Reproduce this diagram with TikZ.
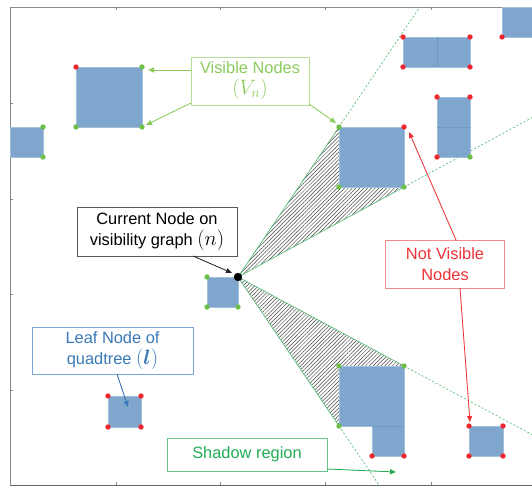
\documentclass[tikz,border=0pt]{standalone}
\usepackage{amsmath,bm}
\usepackage{fontspec}
\setmainfont{Liberation Sans}
\usetikzlibrary{arrows.meta,patterns.meta}
\definecolor{sqfill}{HTML}{7FA7CE}
\definecolor{sqedge}{HTML}{A3BFDC}
\definecolor{sqdiv}{HTML}{6E99C6}
\definecolor{dotred}{HTML}{F0282E}
\definecolor{dotgreen}{HTML}{6CC04A}
\definecolor{shline}{HTML}{5BBE7B}
\definecolor{visgreen}{HTML}{8CCB5E}
\definecolor{visedge}{HTML}{B5DC98}
\definecolor{shgreen}{HTML}{22AD55}
\definecolor{shedge}{HTML}{6CC491}
\definecolor{nvred}{HTML}{EE3338}
\definecolor{nvedge}{HTML}{F08A8C}
\definecolor{leafblue}{HTML}{3A79B8}
\definecolor{leafedge}{HTML}{7AA6D4}
\definecolor{axisgray}{HTML}{8A8A8A}
\newcommand{\bigmath}[1]{{\fontsize{19.5}{20}\selectfont$#1$}}
\tikzset{
  sq/.style={fill=sqfill,draw=sqedge,line width=0.8pt},
  div/.style={draw=sqdiv,line width=0.6pt},
  rdot/.style={fill=dotred},
  gdot/.style={fill=dotgreen},
  lbl/.style={rectangle,inner sep=0pt,align=center,fill=white,line width=0.9pt,
    font=\fontsize{16.4}{21}\selectfont},
  tip/.style={-{Triangle[length=6pt,width=5pt]},line width=0.8pt},
  shsolid/.style={draw=shline,line width=0.7pt},
  shdash/.style={draw=shline,line width=0.7pt,dash pattern=on 2pt off 2pt},
  hatch/.style={pattern={Lines[angle=45,distance=2.7pt,line width=0.5pt]},pattern color=black!72},
  tick/.style={draw=axisgray,line width=0.6pt}
}
\begin{document}
\begin{tikzpicture}[x=1pt,y=-1pt]
\useasboundingbox (0,0) rectangle (532,487);
\fill[white] (0,0) rectangle (532,487);

% key points
\coordinate (n) at (238,277);
\coordinate (uA) at (339,127);
\coordinate (uB) at (339,187);
\coordinate (uC) at (404,187);
\coordinate (lA) at (404,366);
\coordinate (lB) at (339,366);
\coordinate (lC) at (339,426);

% shadow hatching
\fill[hatch] (n) -- (uA) -- (uB) -- (uC) -- cycle;
\fill[hatch] (n) -- (lA) -- (lB) -- (lC) -- cycle;

% axes frame
\draw[draw=axisgray,line width=0.8pt] (10,7) -- (540,7);
\draw[draw=axisgray,line width=0.8pt] (10,7) -- (10,486);
\draw[draw=black!60,line width=1.6pt] (9.6,485.5) -- (540,485.5);
\foreach \x in {116,220,325,431}{
  \draw[tick] (\x,7) -- (\x,10);
  \draw[tick] (\x,485) -- (\x,482);
}
\foreach \y in {103,199,294,390}{
  \draw[tick] (10,\y) -- (13,\y);
}

% dashed extensions
\coordinate (dU1) at (419.8,7);
\coordinate (dU2) at (532,117.6);
\coordinate (dL1) at (532,434.6);
\coordinate (dL2) at (379,485);
\draw[shdash] (uA) -- (dU1);
\draw[shdash] (uC) -- (dU2);
\draw[shdash] (lA) -- (dL1);
\draw[shdash] (lC) -- (dL2);

% squares
\draw[sq] (76,67) rectangle (142,127);
\draw[sq] (10,127) rectangle (43,157);
\draw[sq] (403,37) rectangle (470,67);
\draw[div] (437,37) -- (437,67);
\draw[sq] (502,7) rectangle (545,37);
\draw[sq] (437,97) rectangle (470,157);
\draw[div] (437,127) -- (470,127);
\draw[sq] (339,127) rectangle (404,187);
\draw[sq] (207,277) rectangle (238,307);
\draw[sq] (108,396) rectangle (141,427);
\draw[sq] (339,366) rectangle (404,426);
\draw[sq] (372,426) rectangle (404,456);
\draw[div] (372,426) -- (404,426);
\draw[sq] (469,426) rectangle (503,456);

% solid shadow boundaries
\draw[shsolid] (n) -- (uA);
\draw[shsolid] (n) -- (uC);
\draw[shsolid] (n) -- (lA);
\draw[shsolid] (n) -- (lC);

% corner dots
\foreach \p in {(76,67),(403,37),(470,37),(403,67),(470,67),(502,37),
  (437,97),(470,97),(437,157),(404,127),(108,396),(141,396),(108,427),(141,427),
  (372,456),(404,456),(469,426),(503,426),(469,456),(503,456)}{
  \fill[rdot] \p circle (2.7);
}
\foreach \p in {(142,67),(76,127),(142,127),(43,127),(43,157),(470,157),
  (339,127),(339,187),(404,187),(207,277),(207,307),(238,307),
  (339,366),(404,366),(339,426)}{
  \fill[gdot] \p circle (2.7);
}
\fill[black] (n) circle (4.2);

% labels
\node[lbl,draw=visedge,text=visgreen,minimum width=118pt,minimum height=48pt] (vis) at (250,81)
  {Visible Nodes\\\bigmath{(V_n)}};
\node[lbl,draw=black!65,text=black,minimum width=160pt,minimum height=49pt] (cur) at (157,231.5)
  {Current Node on\\visibility graph \bigmath{(n)}};
\node[lbl,draw=leafedge,text=leafblue,minimum width=161pt,minimum height=47pt] (leaf) at (112.5,350.5)
  {Leaf Node of\\quadtree \bigmath{(\bm{l})}};
\node[lbl,draw=shedge,text=shgreen,minimum width=160pt,minimum height=33pt] (shad) at (247,454.5)
  {Shadow region};
\node[lbl,draw=nvedge,text=nvred,minimum width=119pt,minimum height=48pt] (nv) at (445,264)
  {Not Visible\\Nodes};

% arrow end points
\coordinate (v1s) at (191,70);   \coordinate (v1t) at (148,70);
\coordinate (v2s) at (191,103);  \coordinate (v2t) at (146,125);
\coordinate (v3s) at (309,104);  \coordinate (v3t) at (336,123);
\coordinate (cs) at (193,256);   \coordinate (ct) at (232,273);
\coordinate (ls) at (117,374);   \coordinate (lt) at (128,407);
\coordinate (ss) at (327,469);   \coordinate (st) at (396,472);
\coordinate (n1s) at (456,240);  \coordinate (n1t) at (409,132);
\coordinate (n2s) at (460,288);  \coordinate (n2t) at (470,422);

\draw[tip,draw=visgreen,fill=visgreen] (v1s) -- (v1t);
\draw[tip,draw=visgreen,fill=visgreen] (v2s) -- (v2t);
\draw[tip,draw=visgreen,fill=visgreen] (v3s) -- (v3t);
\draw[tip,draw=black!85,fill=black!85] (cs) -- (ct);
\draw[tip,draw=leafblue,fill=leafblue] (ls) -- (lt);
\draw[tip,draw=shgreen,fill=shgreen] (ss) -- (st);
\draw[tip,draw=nvred,fill=nvred] (n1s) -- (n1t);
\draw[tip,draw=nvred,fill=nvred] (n2s) -- (n2t);
\end{tikzpicture}
\end{document}
